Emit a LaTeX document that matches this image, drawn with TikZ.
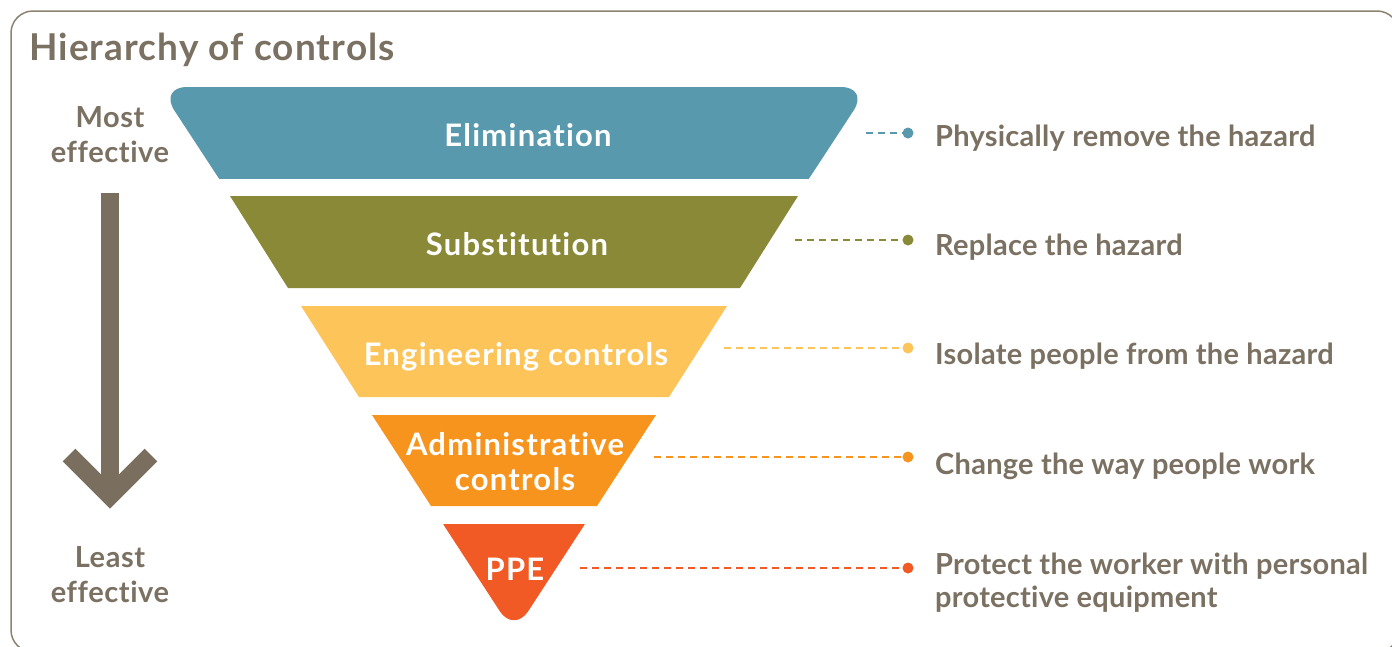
\documentclass[tikz,border=0pt]{standalone}
\usepackage{fontspec}
\setmainfont{Lato}[Ligatures=NoCommon]
\definecolor{txt}{HTML}{7B7162}
\definecolor{framec}{HTML}{8C8272}
\definecolor{arrowc}{HTML}{7A6F5F}
\definecolor{cA}{HTML}{5899AE}
\definecolor{cB}{HTML}{8A8937}
\definecolor{cC}{HTML}{FDC45A}
\definecolor{cD}{HTML}{F7941E}
\definecolor{cE}{HTML}{F15A24}
\begin{document}
\begin{tikzpicture}[x=1pt,y=-1pt,
  bandlabel/.style={text=white,font=\bfseries\fontsize{31}{34}\selectfont\addfontfeatures{LetterSpace=4},inner sep=0pt,anchor=base},
  desc/.style={text=txt,font=\bfseries\fontsize{29}{32}\selectfont\addfontfeatures{LetterSpace=0.9},inner sep=0pt,anchor=base west},
  sidelabel/.style={text=txt,font=\bfseries\fontsize{29}{32}\selectfont\addfontfeatures{LetterSpace=2},inner sep=0pt,anchor=base},
  dot/.style={circle,inner sep=0pt,minimum size=11pt},
  dashline/.style={line width=2pt,dash pattern=on 7pt off 5pt},
  arrowpart/.style={draw=arrowc,line width=18pt}]
\useasboundingbox (0,0) rectangle (1392,646);
% frame
\draw[framec,line width=1.5pt,rounded corners=22pt] (11,11) rectangle (1399,652);
% title
\node[text=txt,font=\bfseries\fontsize{37}{40}\selectfont\addfontfeatures{LetterSpace=3},inner sep=0pt,anchor=base west] (title) at (29,60) {Hierarchy of controls};
% band 1 (rounded top corners)
\begin{scope}
\clip (0,87) rectangle (1392,178);
\fill[cA,rounded corners=28pt] (233,200) -- (159,87) -- (869,87) -- (795,200) -- cycle;
\end{scope}
% band 2
\fill[cB] (288,288) -- (230,196) -- (798,196) -- (740,288) -- cycle;
% band 3
\fill[cC] (359,397) -- (301,306) -- (727,306) -- (669,397) -- cycle;
% band 4
\fill[cD] (431,506) -- (372,415) -- (656,415) -- (597,506) -- cycle;
% band 5 (rounded apex)
\begin{scope}
\clip (0,524) rectangle (1392,646);
\fill[cE,rounded corners=26pt] (430,504) -- (598,504) -- (514,633) -- cycle;
\end{scope}
% band labels
\node[bandlabel] (l1) at (528,146) {Elimination};
\node[bandlabel] (l2) at (517,255) {Substitution};
\node[bandlabel] (l3) at (516,365) {Engineering controls};
\node[bandlabel] (l4a) at (515,455) {Administrative};
\node[bandlabel] (l4b) at (515,490) {controls};
\node[bandlabel] (l5) at (515,580) {PPE};
% dots and dashed connectors
\node[dot,fill=cA] (d1) at (908,133) {};
\node[dot,fill=cB] (d2) at (908,240) {};
\node[dot,fill=cC] (d3) at (908,348) {};
\node[dot,fill=cD] (d4) at (908,457) {};
\node[dot,fill=cE] (d5) at (908,568) {};
\coordinate (s1) at (866,133);
\coordinate (s2) at (795,240);
\coordinate (s3) at (724,348);
\coordinate (s4) at (654,457);
\coordinate (s5) at (580,568);
\draw[dashline,draw=cA] (s1) -- (d1.center);
\draw[dashline,draw=cB] (s2) -- (d2.center);
\draw[dashline,draw=cC] (s3) -- (d3.center);
\draw[dashline,draw=cD] (s4) -- (d4.center);
\draw[dashline,draw=cE] (s5) -- (d5.center);
% descriptions
\node[desc] (t1) at (935,146) {Physically remove the hazard};
\node[desc] (t2) at (935,255) {Replace the hazard};
\node[desc] (t3) at (935,364) {Isolate people from the hazard};
\node[desc] (t4) at (935,474) {Change the way people work};
\node[desc] (t5a) at (935,574) {Protect the worker with personal};
\node[desc] (t5b) at (935,607) {protective equipment};
% side labels
\node[sidelabel] (m1) at (110,127) {Most};
\node[sidelabel] (m2) at (110,162) {effective};
\node[sidelabel] (e1) at (110,567) {Least};
\node[sidelabel] (e2) at (110,602) {effective};
% arrow
\coordinate (ashaft) at (110,193);
\coordinate (abase) at (110,485);
\coordinate (aleft) at (69,455);
\coordinate (atip) at (110,496);
\coordinate (aright) at (151,455);
\draw[arrowpart] (ashaft) -- (abase);
\draw[arrowpart,miter limit=4] (aleft) -- (atip) -- (aright);
\end{tikzpicture}
\end{document}
